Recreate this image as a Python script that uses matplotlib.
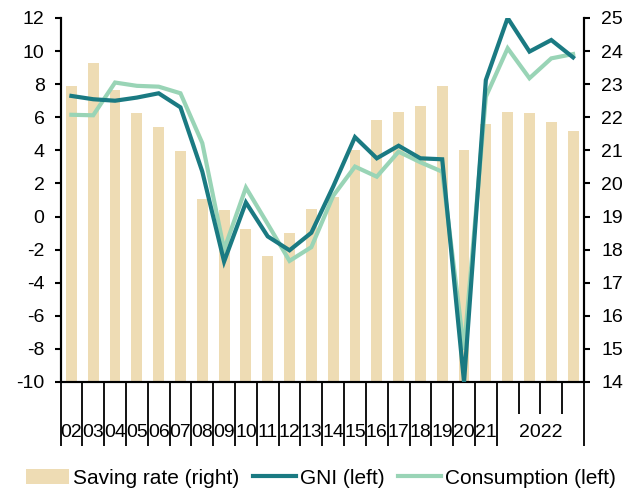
import matplotlib
matplotlib.use("Agg")
import matplotlib.pyplot as plt
from matplotlib.transforms import blended_transform_factory
import numpy as np

plt.rcParams['font.family'] = ['Liberation Sans', 'DejaVu Sans']
plt.rcParams['axes.unicode_minus'] = False

labels = ["02", "03", "04", "05", "06", "07", "08", "09", "10", "11",
          "12", "13", "14", "15", "16", "17", "18", "19", "20", "21",
          "Q1", "Q2", "Q3", "Q4"]
year_2022_label = "2022"

saving_rate = [22.95, 23.63, 22.81, 22.13, 21.70, 20.99, 19.54, 19.20, 18.63, 17.82,
               18.50, 19.23, 19.59, 21.02, 21.93, 22.17, 22.35, 22.93, 21.00, 21.79,
               22.17, 22.12, 21.87, 21.60]
gni = [7.29, 7.09, 7.00, 7.19, 7.45, 6.60, 2.72, -2.72, 0.85, -1.20,
       -2.04, -0.98, 1.81, 4.80, 3.52, 4.28, 3.52, 3.46, -10.0, 8.25,
       12.0, 9.97, 10.67, 9.62]
consumption = [6.15, 6.12, 8.10, 7.90, 7.85, 7.45, 4.44, -2.00, 1.75, -0.45,
               -2.68, -1.85, 1.25, 3.02, 2.41, 3.92, 3.28, 2.71, -8.06, 7.24,
               10.17, 8.36, 9.56, 9.82]

bar_color = "#EEDCB4"
gni_color = "#1A7A82"
cons_color = "#99D4B6"

fig = plt.figure(figsize=(6.36, 4.98), dpi=100)
ax = fig.add_axes([60.5/636, 1-382/498, (584-60.5)/636, (382-18)/498])
ax2 = ax.twinx()

x = np.arange(len(labels))
ax2.bar(x, saving_rate, width=0.5, color=bar_color, label="Saving rate (right)", zorder=1)
ax.plot(x, gni, color=gni_color, lw=3.0, label="GNI (left)", solid_joinstyle='miter', zorder=3)
ax.plot(x, consumption, color=cons_color, lw=3.0, label="Consumption (left)", solid_joinstyle='miter', zorder=2)

ax.set_zorder(ax2.get_zorder() + 1)
ax.patch.set_visible(False)

ax.set_xlim(-0.5, len(labels) - 0.5)
ax.set_ylim(-10, 12)
ax2.set_ylim(14, 25)
ax.set_yticks(np.arange(-10, 13, 2))
ax2.set_yticks(np.arange(14, 26, 1))

for a in (ax, ax2):
    a.spines['top'].set_visible(False)
    for s in ('left', 'right', 'bottom'):
        a.spines[s].set_linewidth(1.5)
        a.spines[s].set_color('black')
ax.tick_params(axis='y', labelsize=14, width=1.5, length=4.5, direction='out', pad=7)
ax2.tick_params(axis='y', labelsize=14, width=1.5, length=4.5, direction='out', pad=8)

major = list(np.arange(-0.5, 20.0, 1.0)) + [len(labels) - 0.5]
minor = [20.5, 21.5, 22.5]
ax.set_xticks(major)
ax.set_xticklabels([])
ax.set_xticks(minor, minor=True)
ax.tick_params(axis='x', which='major', length=46, width=1.3, direction='out')
ax.tick_params(axis='x', which='minor', length=23, width=1.3, direction='out')
ax2.tick_params(axis='x', which='both', length=0)

trans = blended_transform_factory(ax.transData, ax.transAxes)
for i in range(20):
    ax.text(x[i], -0.14, labels[i], transform=trans, ha='center', va='center', fontsize=14)
ax.text(21.5, -0.14, year_2022_label, transform=trans, ha='center', va='center', fontsize=14)

h2, l2 = ax2.get_legend_handles_labels()
h1, l1 = ax.get_legend_handles_labels()
fig.legend(h2 + h1, l2 + l1, loc='center', bbox_to_anchor=(321/636, 1-478/498), ncol=3,
           frameon=False, fontsize=15, handlelength=2.07, handletextpad=0.2,
           columnspacing=0.65, borderaxespad=0, borderpad=0)

fig.savefig("out.png", dpi=100)
